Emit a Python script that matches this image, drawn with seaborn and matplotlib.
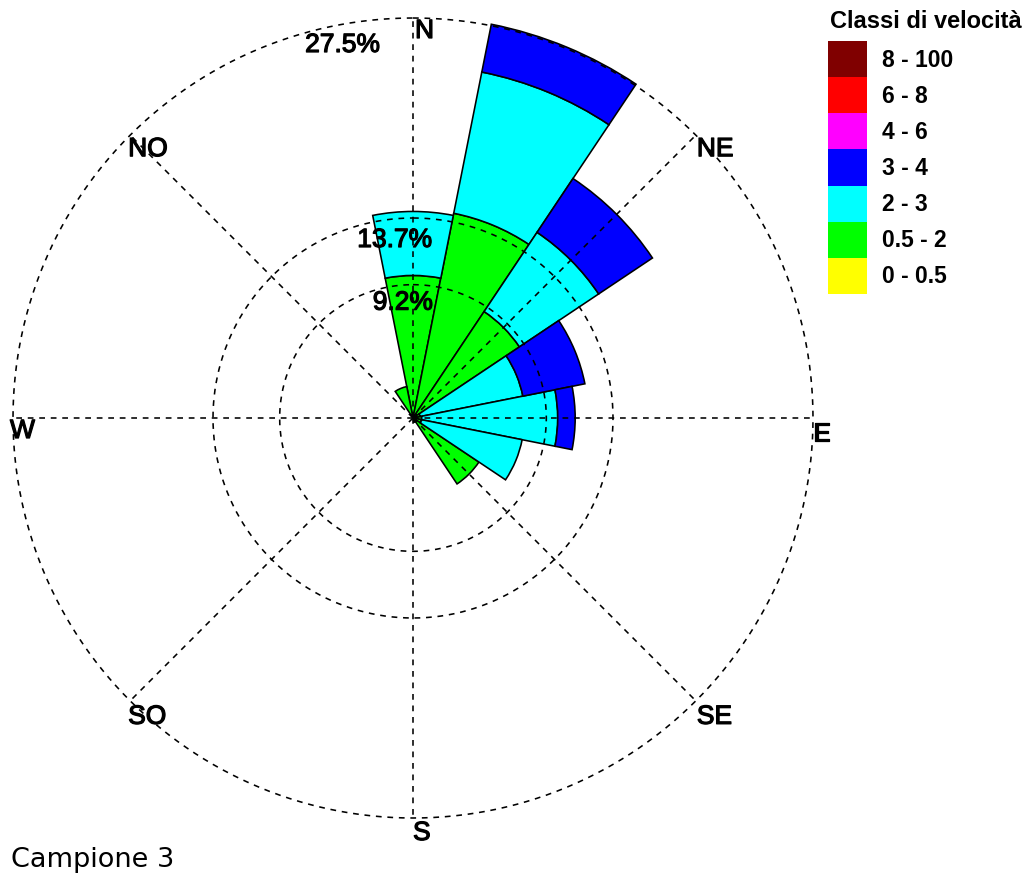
import numpy as np
import matplotlib
matplotlib.use("Agg")
import matplotlib.pyplot as plt
import matplotlib.patheffects as pe
import seaborn as sns

# Wind directions (16 sectors, clockwise from north)
directions = ["N", "NNE", "NE", "ENE", "E", "ESE", "SE", "SSE",
              "S", "SSO", "SO", "OSO", "O", "ONO", "NO", "NNO"]

# Frequency (%) of each speed class per direction
freq_0_05 = [0, 0, 0, 0, 0, 0, 0, 0, 0, 0, 0, 0, 0, 0, 0, 0]
freq_05_2 = [9.8, 14.35, 8.8, 0.5, 0.6, 0.6, 5.45, 0.3, 0, 0, 0, 0, 0, 0, 0, 2.2]
freq_2_3 = [4.4, 9.9, 6.55, 7.2, 9.35, 7.05, 0, 0, 0, 0, 0, 0, 0, 0, 0, 0]
freq_3_4 = [0, 3.35, 4.45, 4.35, 1.2, 0, 0, 0, 0, 0, 0, 0, 0, 0, 0, 0]
freq_4_6 = [0, 0, 0, 0, 0, 0, 0, 0, 0, 0, 0, 0, 0, 0, 0, 0]
freq_6_8 = [0, 0, 0, 0, 0, 0, 0, 0, 0, 0, 0, 0, 0, 0, 0, 0]
freq_8_100 = [0, 0, 0, 0, 0, 0, 0, 0, 0, 0, 0, 0, 0, 0, 0, 0]

class_labels = ["0 - 0.5", "0.5 - 2", "2 - 3", "3 - 4", "4 - 6", "6 - 8", "8 - 100"]
class_colors = ["#FFFF00", "#00FF00", "#00FFFF", "#0000FF", "#FF00FF", "#FF0000", "#800000"]

# Reference circles and their labels
ring_values = [27.5 / 3, 27.5 / 2, 27.5]
ring_labels = ["9.2%", "13.7%", "27.5%"]

compass_labels = ["N", "NE", "E", "SE", "S", "SO", "W", "NO"]

sns.set_theme(style="white")
plt.rcParams["font.family"] = ["Liberation Sans", "DejaVu Sans"]
palette = sns.color_palette(class_colors)

W, H = 1026, 879
fig = plt.figure(figsize=(W / 100, H / 100), dpi=100)
fig.patch.set_facecolor("white")

# Polar axes placement (pixels)
cx, cy = 413, 419
r_max = 28.0
px_per_unit = 400 / 27.5
rad_px = r_max * px_per_unit
ax = fig.add_axes([(cx - rad_px) / W, (H - cy - rad_px) / H, 2 * rad_px / W, 2 * rad_px / H],
                  projection="polar")
ax.set_theta_zero_location("N")
ax.set_theta_direction(-1)
ax.set_ylim(0, r_max)
ax.set_xticks([])
ax.set_yticks([])
ax.grid(False)
ax.spines["polar"].set_visible(False)
ax.set_facecolor("none")

n = len(directions)
theta = np.arange(n) * 2 * np.pi / n
width = 2 * np.pi / n

series = [freq_0_05, freq_05_2, freq_2_3, freq_3_4, freq_4_6, freq_6_8, freq_8_100]
bottom = np.zeros(n)
for vals, col in zip(series, palette):
    vals = np.asarray(vals, dtype=float)
    mask = vals > 0
    if mask.any():
        ax.bar(theta[mask], vals[mask], width=width, bottom=bottom[mask], color=col,
               edgecolor="black", linewidth=1.15, align="center", zorder=2)
    bottom += vals

# Dashed reference circles and radial lines
dash = dict(color="black", linewidth=1.15, linestyle=(0, (3.6, 3.6)), zorder=3)
tt = np.linspace(0, 2 * np.pi, 721)
for rv in ring_values:
    ax.plot(tt, np.full_like(tt, rv), **dash)
for k in range(8):
    a = k * np.pi / 4
    ax.plot([a, a], [0, 27.5], **dash)

thick = [pe.withStroke(linewidth=0.9, foreground="black")]

# Compass labels at the outer ends of the radial lines
offsets = [(2, -1), (1, -2), (0, -4), (1, -4), (0, -3), (-2, -4), (-3, -1), (-2, -2)]
for k, (lab, off) in enumerate(zip(compass_labels, offsets)):
    ax.annotate(lab, xy=(k * np.pi / 4, 27.5), xytext=off, textcoords="offset pixels",
                ha="left", va="top", fontsize=19, color="black",
                annotation_clip=False, zorder=4, path_effects=thick)

# Ring value labels
ring_offsets = [(20, -6), (19, -10), (-33, -15)]
for rv, lab, off in zip(ring_values, ring_labels, ring_offsets):
    ax.annotate(lab, xy=(0, rv), xytext=off, textcoords="offset pixels",
                ha="right", va="top", fontsize=19, color="black",
                annotation_clip=False, zorder=4, path_effects=thick)

# Speed-class legend
lax = fig.add_axes([828 / W, (H - 295) / H, 39 / W, 253 / H])
ypos = np.arange(len(class_labels))
lax.barh(ypos, [1] * len(class_labels), height=1.0, color=palette, edgecolor="none")
lax.set_xlim(0, 1)
lax.set_ylim(-0.5, len(class_labels) - 0.5)
lax.axis("off")
for y, lab in zip(ypos, class_labels):
    lax.text((882 - 828) / 39, y, lab, ha="left", va="center", fontsize=16.5,
             fontweight="bold", color="black", clip_on=False)

fig.text(830 / W, 1 - 10 / H, "Classi di velocità", ha="left", va="top",
         fontsize=17, fontweight="bold", color="black")
fig.text(11 / W, (H - 867) / H, "Campione 3", ha="left", va="baseline",
         fontsize=19.5, family=["DejaVu Sans"], color="black")

fig.savefig("out.png", dpi=100, facecolor="white")
